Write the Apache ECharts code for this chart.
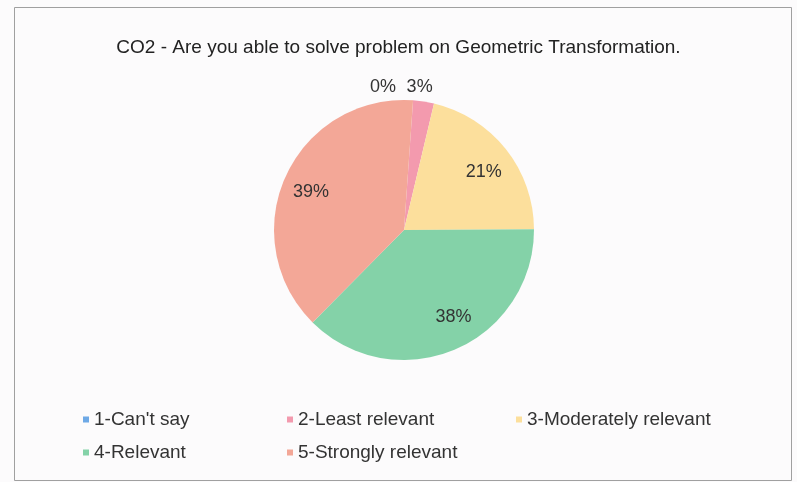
<!DOCTYPE html>
<html>
<head>
<meta charset="utf-8">
<script src="https://cdn.jsdelivr.net/npm/echarts@6/dist/echarts.min.js"></script>
<style>
html,body{margin:0;padding:0;background:#fcfbfc;}
#c{width:797px;height:482px;}
</style>
</head>
<body>
<div id="c"></div>
<script>
const titleText = 'CO2 - Are you able to solve problem on Geometric Transformation.';
const categories = ['1-Can\'t say', '2-Least relevant', '3-Moderately relevant', '4-Relevant', '5-Strongly relevant'];
const values = [0, 2.6, 21.2, 37.5, 38.7];
const colors = ['#6ea9e6', '#f39aae', '#fcdf9c', '#84d2a8', '#f3a797'];
const legendCols = [[categories[0], categories[3]], [categories[1], categories[4]], [categories[2]]];

const chart = echarts.init(document.getElementById('c'), null, {renderer: 'canvas'});
const FONT = '"Liberation Sans", Arial, sans-serif';

const mainData = categories.map((n, i) => ({name: n, value: values[i], itemStyle: {color: colors[i]}}));
const labelData = categories.map((n, i) => ({
  name: n, value: values[i],
  label: i < 2 ? {position: 'outside'} : {position: 'inside'}
}));

// small nudges of label text, matching the reference's label placement
const labelNudge = [{dx: -48, dy: -13}, {dx: -22, dy: -14}, {dx: 0, dy: 5}, {dx: 10, dy: -7}, {dx: 0, dy: 4}];

const legendLefts = [78, 282, 511];
const legends = legendCols.map((d, k) => ({
  orient: 'vertical', left: legendLefts[k], top: 405, data: d,
  icon: 'rect', itemWidth: 6, itemHeight: 6, itemGap: 14,
  selectedMode: false,
  textStyle: {fontFamily: FONT, fontSize: 19, color: '#333', lineHeight: 19}
}));

chart.setOption({
  backgroundColor: '#fcfbfc',
  animation: false,
  title: {
    text: titleText, left: 'center', top: 33,
    textStyle: {fontFamily: FONT, fontSize: 19, fontWeight: 'normal', color: '#222'}
  },
  legend: legends,
  graphic: [{
    type: 'rect', shape: {x: 14.5, y: 7.5, width: 777, height: 473},
    style: {fill: null, stroke: '#a0a0a0', lineWidth: 1}, silent: true
  }],
  series: [{
    type: 'pie', center: [404, 230], radius: [0, 130], startAngle: 86,
    clockwise: true, data: mainData, label: {show: false}, labelLine: {show: false},
    emphasis: {disabled: true}
  }, {
    type: 'pie', center: [404, 230], radius: [68, 130], startAngle: 86,
    clockwise: true, data: labelData, avoidLabelOverlap: false, silent: true,
    itemStyle: {color: 'rgba(0,0,0,0)'},
    label: {show: true, fontFamily: FONT, fontSize: 18, color: '#333',
      formatter: p => Math.round(p.value) + '%'},
    labelLine: {show: false, length: 0, length2: 0},
    labelLayout: p => labelNudge[p.dataIndex],
    emphasis: {disabled: true}
  }]
});
</script>
</body>
</html>
